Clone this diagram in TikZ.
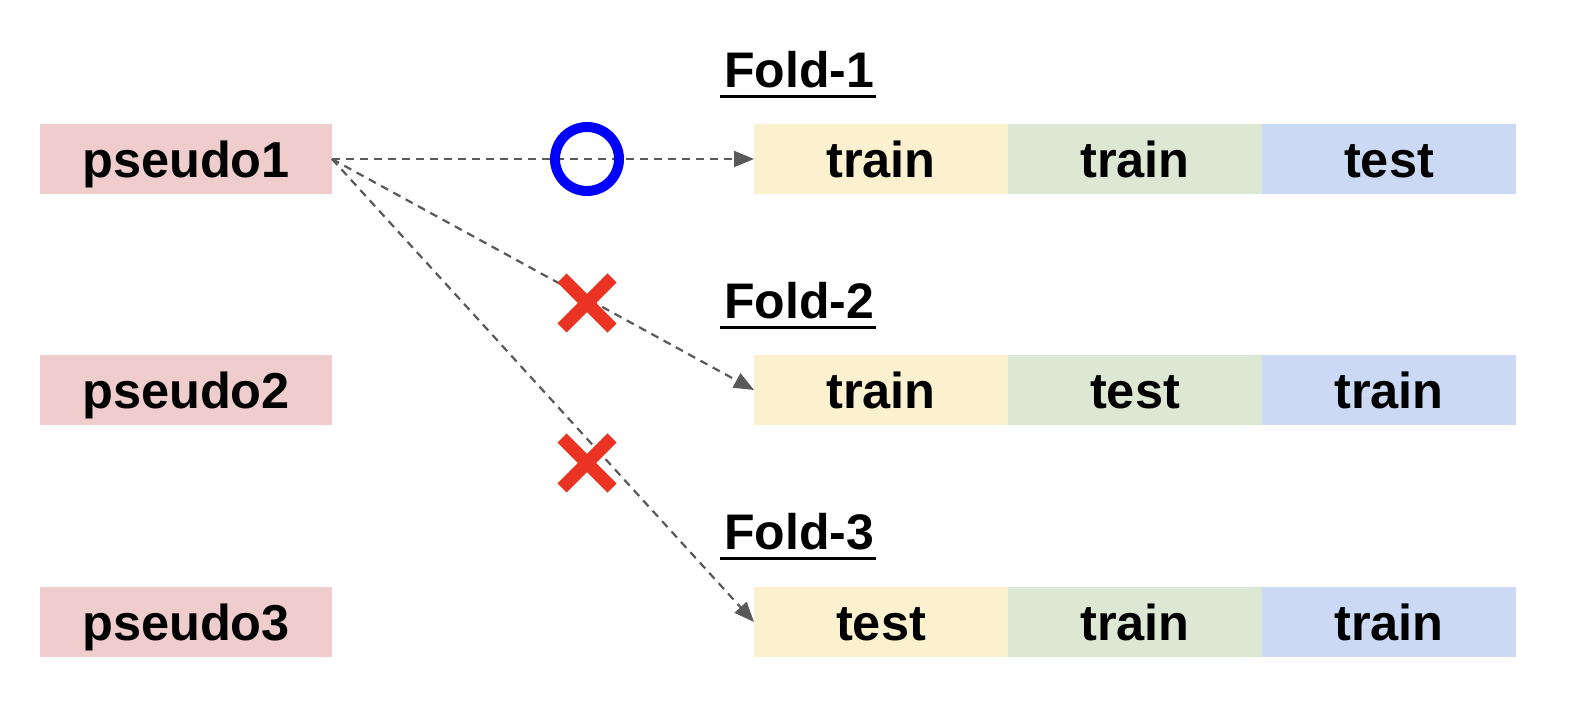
\documentclass[tikz,border=0pt]{standalone}
\usepackage{fontspec}
\setmainfont{Liberation Sans}
\usetikzlibrary{arrows.meta}
\definecolor{pinkc}{HTML}{F0CDCD}
\definecolor{yellowc}{HTML}{FCF1CF}
\definecolor{greenc}{HTML}{DCE8D4}
\definecolor{bluec}{HTML}{CBD9F4}
\definecolor{linec}{HTML}{595959}
\definecolor{redx}{HTML}{EA3323}
\begin{document}
\begin{tikzpicture}[x=1pt,y=-1pt,
  cell/.style={minimum width=254pt,minimum height=70pt,inner sep=0pt,outer sep=0pt,
    text height=50pt,text depth=14pt,
    font=\fontsize{50.5}{58}\selectfont\bfseries},
  pbox/.style={cell,fill=pinkc,minimum width=292pt},
  foldlbl/.style={inner sep=0pt,anchor=base,font=\fontsize{50}{58}\selectfont\bfseries},
  uline/.style={draw=black,line width=3.5pt},
  conn/.style={draw=linec,line width=2.2pt,dash pattern=on 8pt off 6pt,
    -{Triangle[length=20pt,width=16pt]}},
  xmark/.style={draw=redx,line width=13pt}
]
\useasboundingbox (0,0) rectangle (1576,704);
% pseudo boxes
\node[pbox] (p1) at (186,159) {pseudo1};
\node[pbox] (p2) at (186,390) {pseudo2};
\node[pbox] (p3) at (186,622) {pseudo3};
% fold rows
\node[cell,fill=yellowc] (a1) at (881,159) {train};
\node[cell,fill=greenc]  (b1) at (1135,159) {train};
\node[cell,fill=bluec]   (c1) at (1389,159) {test};
\node[cell,fill=yellowc] (a2) at (881,390) {train};
\node[cell,fill=greenc]  (b2) at (1135,390) {test};
\node[cell,fill=bluec]   (c2) at (1389,390) {train};
\node[cell,fill=yellowc] (a3) at (881,622) {test};
\node[cell,fill=greenc]  (b3) at (1135,622) {train};
\node[cell,fill=bluec]   (c3) at (1389,622) {train};
% fold labels
\node[foldlbl] (f1) at (799,87) {Fold-1};
\node[foldlbl] (f2) at (799,318) {Fold-2};
\node[foldlbl] (f3) at (799,549) {Fold-3};
\foreach \f in {f1,f2,f3}
  \draw[uline] ([shift={(-4,9.5)}]\f.base west) -- ([shift={(2,9.5)}]\f.base east);
% connectors
\coordinate (s) at (p1.east);
\draw[conn] (s) -- (a1.west);
\draw[conn] (s) -- (a2.west);
\draw[conn] (s) -- (a3.west);
% marks
\node[draw=blue,line width=10pt,circle,minimum size=64pt,inner sep=0pt] (ok) at (587,159) {};
\coordinate (x1) at (587,303);
\coordinate (x2) at (587,463);
\draw[xmark] ([shift={(-25,-25)}]x1) -- ([shift={(25,25)}]x1);
\draw[xmark] ([shift={(-25,25)}]x1) -- ([shift={(25,-25)}]x1);
\draw[xmark] ([shift={(-25,-25)}]x2) -- ([shift={(25,25)}]x2);
\draw[xmark] ([shift={(-25,25)}]x2) -- ([shift={(25,-25)}]x2);
\end{tikzpicture}
\end{document}
